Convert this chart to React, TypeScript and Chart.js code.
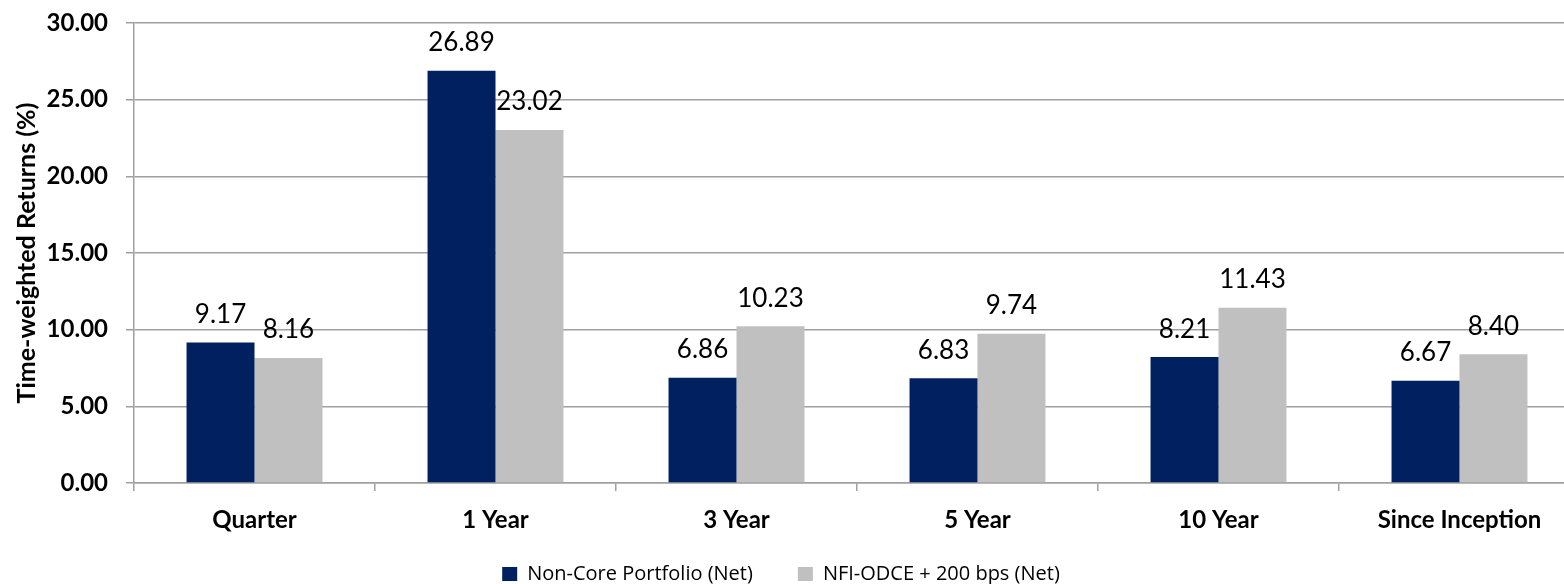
import React, { useEffect, useRef } from "react";
import { Chart, registerables } from "chart.js";

Chart.register(...registerables);

const categories = ["Quarter", "1 Year", "3 Year", "5 Year", "10 Year", "Since Inception"];
const nonCoreValues = [9.17, 26.89, 6.86, 6.83, 8.21, 6.67];
const benchmarkValues = [8.16, 23.02, 10.23, 9.74, 11.43, 8.4];
const seriesNames = ["Non-Core Portfolio (Net)", "NFI-ODCE + 200 bps (Net)"];
const yTitle = "Time-weighted Returns (%)";

const FONT = "Lato, 'Open Sans', sans-serif";
const LEGEND_FONT = "'Open Sans', Lato, sans-serif";
const GRID = "#a0a0a0";

const valueLabels = {
  id: "valueLabels",
  afterDatasetsDraw(chart: any) {
    const { ctx } = chart;
    ctx.save();
    ctx.font = `normal 26px ${FONT}`;
    ctx.fillStyle = "#000";
    ctx.textAlign = "center";
    ctx.textBaseline = "middle";
    chart.data.datasets.forEach((ds: any, di: number) => {
      const meta = chart.getDatasetMeta(di);
      meta.data.forEach((el: any, i: number) => {
        const v = ds.data[i] as number;
        ctx.fillText(v.toFixed(2), el.x, el.y - 28);
      });
    });
    ctx.restore();
  },
};

export default function App() {
  const ref = useRef<HTMLCanvasElement | null>(null);
  useEffect(() => {
    if (!ref.current) return;
    const chart = new Chart(ref.current, {
      type: "bar",
      data: {
        labels: categories,
        datasets: [
          { label: seriesNames[0], data: nonCoreValues, backgroundColor: "#002060", borderWidth: 0 },
          { label: seriesNames[1], data: benchmarkValues, backgroundColor: "#c0c0c0", borderWidth: 0 },
        ],
      },
      options: {
        animation: false,
        responsive: false,
        maintainAspectRatio: false,
        layout: { padding: { left: 0, top: 23, right: 10, bottom: 0 } },
        datasets: { bar: { barPercentage: 1, categoryPercentage: 0.564 } },
        plugins: {
          tooltip: { enabled: false },
          legend: {
            position: "bottom",
            labels: {
              font: { family: LEGEND_FONT, size: 20, weight: "normal" },
              color: "#000",
              boxWidth: 15,
              boxHeight: 14,
              padding: 45,
            },
          },
        },
        scales: {
          x: {
            grid: {
              display: true,
              drawOnChartArea: false,
              drawTicks: true,
              tickLength: 8,
              color: GRID,
              lineWidth: 1.5,
            },
            border: { display: true, color: GRID, width: 1.5 },
            ticks: {
              font: { family: FONT, size: 24, weight: "bold" },
              color: "#000",
              padding: 15,
              maxRotation: 0,
            },
            afterFit(scale: any) {
              scale.height = 36;
              scale.paddingLeft = 0;
              scale.paddingRight = 0;
              scale._computeLabelArea = () => undefined;
            },
          },
          y: {
            min: 0,
            max: 30,
            grid: { color: GRID, lineWidth: 1.5, tickLength: 8, drawTicks: true },
            border: { display: true, color: GRID, width: 1.5 },
            ticks: {
              stepSize: 5,
              font: { family: FONT, size: 24, weight: "bold" },
              color: "#000",
              padding: 18,
              callback: (v: any) => Number(v).toFixed(2),
            },
            title: {
              display: true,
              text: yTitle,
              font: { family: FONT, size: 25, weight: "bold" },
              color: "#000",
              padding: { top: 30, bottom: 0 },
            },
            afterFit(scale: any) {
              scale.width = 152;
              scale.paddingTop = 0;
              scale.paddingBottom = 0;
            },
          },
        },
      },
      plugins: [valueLabels],
    });
    return () => chart.destroy();
  }, []);
  return (
    <div style={{ position: "fixed", left: 0, top: 0, width: 1564, height: 584, overflow: "hidden", background: "#fff" }}>
      <canvas ref={ref} width={1608} height={594} style={{ position: "absolute", left: -18, top: 0, width: 1608, height: 594 }} />
    </div>
  );
}
